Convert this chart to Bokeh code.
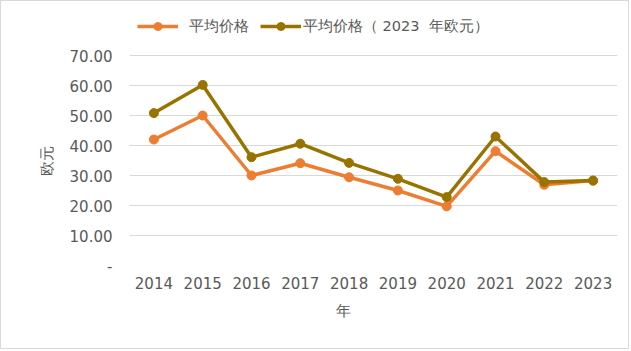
from bokeh.plotting import figure
from bokeh.models import ColumnDataSource, Legend, LegendItem, FixedTicker, Title
from bokeh.embed import file_html
from bokeh.resources import INLINE

years = ["2014", "2015", "2016", "2017", "2018", "2019", "2020", "2021", "2022", "2023"]
avg_price = [42.0, 50.0, 30.0, 34.1, 29.4, 25.0, 19.7, 38.1, 26.9, 28.3]
avg_price_2023 = [50.8, 60.2, 36.1, 40.6, 34.2, 28.9, 22.8, 43.0, 27.8, 28.3]
y_ticks = [0, 10, 20, 30, 40, 50, 60, 70]
y_tick_labels = ["-", "10.00", "20.00", "30.00", "40.00", "50.00", "60.00", "70.00"]
series_names = ["平均价格", "平均价格（ 2023  年欧元）"]
x_title = "年"
y_title = "欧元"

ORANGE = "#ED7D31"
OLIVE = "#997300"
FONT = "DejaVu Sans"
GREY = "#595959"

src = ColumnDataSource(dict(year=years, a=avg_price, b=avg_price_2023))

# frame reaches the top edge so that the legend (drawn inside the frame) is not clipped
p = figure(x_range=years, y_range=(0, 88), width=629, height=349,
           output_backend="svg", toolbar_location=None,
           min_border_left=128, min_border_right=13, min_border_top=0, min_border_bottom=85,
           styles={"border": "1px solid #d9d9d9"})
p.outline_line_color = None
p.background_fill_color = "white"
p.border_fill_color = "white"

p.xgrid.grid_line_color = None
p.ygrid.grid_line_color = "#d9d9d9"
p.ygrid.grid_line_width = 1
p.ygrid.ticker = FixedTicker(ticks=y_ticks)

p.yaxis.ticker = FixedTicker(ticks=y_ticks)
p.yaxis.major_label_overrides = {t: l for t, l in zip(y_ticks, y_tick_labels)}
for ax in (p.xaxis[0], p.yaxis[0]):
    ax.axis_line_color = None
    ax.major_tick_line_color = None
    ax.minor_tick_line_color = None
    ax.major_label_text_font = FONT
    ax.major_label_text_font_size = "15px"
    ax.major_label_text_color = GREY
p.yaxis.major_label_standoff = 11
p.xaxis.major_label_standoff = 5

r1 = p.line("year", "a", source=src, line_color=ORANGE, line_width=3.5)
c1 = p.scatter("year", "a", source=src, size=9, fill_color=ORANGE, line_color=ORANGE)
r2 = p.line("year", "b", source=src, line_color=OLIVE, line_width=3.5)
c2 = p.scatter("year", "b", source=src, size=9, fill_color=OLIVE, line_color=OLIVE)

legend = Legend(items=[LegendItem(label=series_names[0], renderers=[r1, c1])],
                location=(8, 229), orientation="horizontal",
                padding=0, margin=0, border_line_color=None, background_fill_alpha=0,
                label_text_font=FONT, label_text_font_size="14.5px", label_text_color=GREY,
                glyph_width=41, glyph_height=20, label_standoff=11, spacing=0)
p.add_layout(legend, "center")
legend2 = Legend(items=[LegendItem(label=series_names[1], renderers=[r2, c2])],
                 location=(131, 229), orientation="horizontal",
                 padding=0, margin=0, border_line_color=None, background_fill_alpha=0,
                 label_text_font=FONT, label_text_font_size="14.5px", label_text_color=GREY,
                 glyph_width=41, glyph_height=20, label_standoff=2, spacing=0)
p.add_layout(legend2, "center")

p.add_layout(Title(text=x_title, align="left", offset=206, standoff=17,
                   text_font=FONT, text_font_size="15px", text_color=GREY,
                   text_font_style="normal"), "below")
p.add_layout(Title(text=y_title, align="left", offset=90, standoff=22,
                   text_font=FONT, text_font_size="15px", text_color=GREY,
                   text_font_style="normal"), "left")

open("out.html", "w").write(file_html(p, INLINE))
